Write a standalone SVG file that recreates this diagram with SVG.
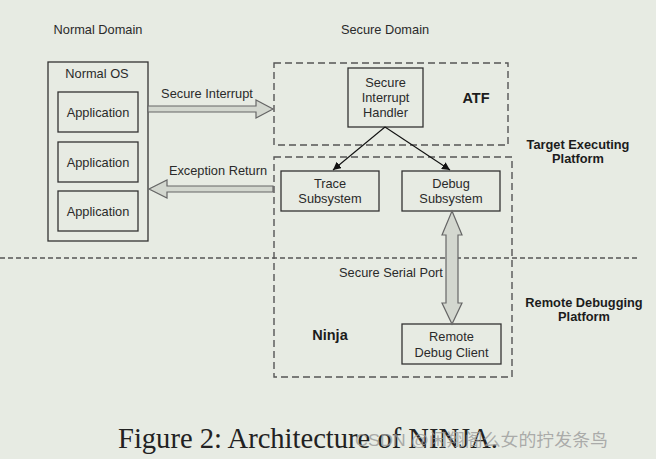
<svg xmlns="http://www.w3.org/2000/svg" width="656" height="459" viewBox="0 0 656 459">
<defs>
<style>
text{font-family:"Liberation Sans",Arial,sans-serif;font-size:12.8px;fill:#2a2a2a;text-anchor:middle}
.b{font-weight:bold;fill:#1c1c1c}
.big{font-size:14.5px}
.box{fill:none;stroke:#333;stroke-width:1.3}
.dash{fill:none;stroke:#555;stroke-width:1.4;stroke-dasharray:7 4}
.fat{fill:#d3d7cf;stroke:#666;stroke-width:1.2;stroke-linejoin:miter}
.ln{stroke:#111;stroke-width:1.1;fill:none}
.cap{font-family:"Liberation Serif","Times New Roman",serif;font-size:29px;fill:#222;text-anchor:start}
.wm{font-family:"Liberation Sans","Noto Sans CJK SC",sans-serif;font-size:17px;fill:#9a9a9a;fill-opacity:0.8;text-anchor:start}
</style>
<marker id="ah" viewBox="0 0 10 10" refX="10" refY="5" markerWidth="8" markerHeight="8" markerUnits="userSpaceOnUse" orient="auto">
<path d="M0,0 L10,5 L0,10 z" fill="#111"/>
</marker>
</defs>
<rect width="656" height="459" fill="#e7ebe3"/>

<text x="98" y="34">Normal Domain</text>
<text x="385" y="34">Secure Domain</text>

<g id="normal-os">
<rect class="box" x="48" y="62" width="100" height="179"/>
<text x="97" y="78">Normal OS</text>
</g>
<g id="app1"><rect class="box" x="58" y="92" width="80" height="40"/><text x="98" y="116.5">Application</text></g>
<g id="app2"><rect class="box" x="58" y="142" width="80" height="40"/><text x="98" y="166.5">Application</text></g>
<g id="app3"><rect class="box" x="58" y="191" width="80" height="40"/><text x="98" y="215.5">Application</text></g>

<g id="atf">
<rect class="dash" x="274" y="63" width="234" height="82"/>
<text class="b big" x="476" y="103">ATF</text>
</g>
<g id="ninja">
<rect class="dash" x="274" y="157" width="238" height="220"/>
<text class="b big" x="330" y="340">Ninja</text>
</g>

<g id="handler">
<rect class="box" x="348" y="68" width="75" height="59"/>
<text x="385.5" y="86.5">Secure</text>
<text x="385.5" y="101.5">Interrupt</text>
<text x="385.5" y="116.5">Handler</text>
</g>
<g id="trace">
<rect class="box" x="281" y="171" width="98" height="40"/>
<text x="330" y="187.5">Trace</text>
<text x="330" y="202.5">Subsystem</text>
</g>
<g id="debug">
<rect class="box" x="402" y="171" width="98" height="40"/>
<text x="451" y="187.5">Debug</text>
<text x="451" y="202.5">Subsystem</text>
</g>
<g id="client">
<rect class="box" x="402" y="324" width="99" height="40"/>
<text x="451.5" y="340.5">Remote</text>
<text x="451.5" y="356.5">Debug Client</text>
</g>

<g id="platform-labels">
<text class="b" x="578" y="148.5">Target Executing</text>
<text class="b" x="578" y="162.5">Platform</text>
<text class="b" x="584" y="307">Remote Debugging</text>
<text class="b" x="584" y="321">Platform</text>
</g>

<g id="connectors">
<line x1="0" y1="258" x2="640" y2="258" stroke="#555" stroke-width="1.4" stroke-dasharray="5 3"/>
<polygon class="fat" points="148,106 256,106 256,100 273,109 256,118 256,112 148,112"/>
<text x="207" y="97.5">Secure Interrupt</text>
<polygon class="fat" points="273,186 167,186 167,180 149,189 167,198 167,192 273,192"/>
<text x="218" y="174.5">Exception Return</text>
<line class="ln" x1="385" y1="127" x2="333" y2="170" marker-end="url(#ah)"/>
<line class="ln" x1="385" y1="127" x2="450" y2="170" marker-end="url(#ah)"/>
<polygon class="fat" points="452,211 462,235 458,235 458,303 462,303 452,324 442,303 446,303 446,235 442,235"/>
<text x="391" y="276.5">Secure Serial Port</text>
</g>

<text class="cap" x="118" y="448" textLength="380" lengthAdjust="spacingAndGlyphs">Figure 2: Architecture of NINJA.</text>
<text class="wm" x="355" y="446" textLength="253" lengthAdjust="spacingAndGlyphs">CSDN @闲翔阁么女的拧发条鸟</text>
</svg>
